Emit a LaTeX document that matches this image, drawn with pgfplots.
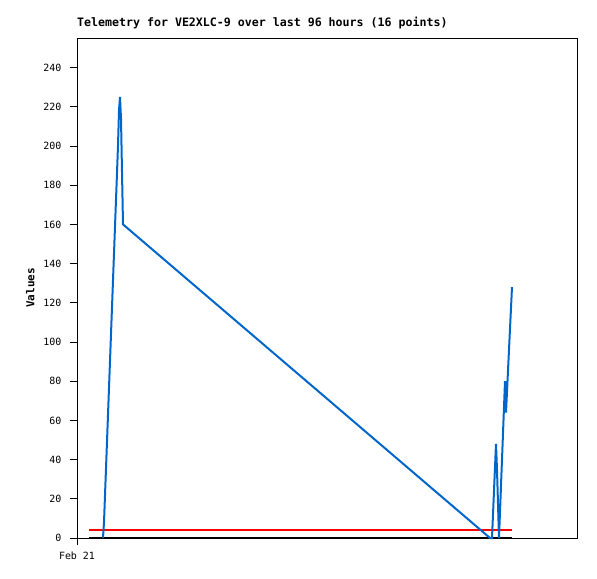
\documentclass[border=0pt]{standalone}
\usepackage{pgfplots}
\pgfplotsset{compat=1.18}
\usepackage{fontspec}
\setmainfont{DejaVu Sans Mono}
\definecolor{tblue}{HTML}{0066CC}
\begin{document}
\begin{tikzpicture}
\begin{axis}[
  scale only axis, width=500bp, height=500bp,
  xmin=0, xmax=500, ymin=0, ymax=255.1,
  axis line style={black, line width=0.8bp},
  ytick={0,20,...,240}, xtick={0}, xticklabels={Feb 21},
  tick align=outside, tick pos=left, major tick length=7bp,
  tick style={black, line width=0.8bp},
  ticklabel style={font=\fontsize{10}{11}\selectfont},
  yticklabel style={xshift=-5bp},
  xticklabel style={yshift=-3bp},
  /pgf/number format/assume math mode=true,
  title={\bfseries Telemetry for VE2XLC-9 over last 96 hours (16 points)},
  title style={at={(0,1)}, anchor=south west, inner sep=0pt, yshift=3bp, font=\fontsize{11.65}{12}\selectfont},
  ylabel={\bfseries Values},
  ylabel style={font=\fontsize{11}{12}\selectfont, yshift=2bp},
  clip=false,
]
\addplot[black, line width=2bp] coordinates {(12,0) (435,0)};
\addplot[red, line width=2bp] coordinates {(12,4) (435,4)};
\addplot[tblue, line width=2bp] coordinates {
 (26,0) (27,8) (41,200) (42,218) (43,225) (44,214) (46,160)
 (413,0) (415,0) (419,48) (420,35) (422,0) (428,80) (429,64) (435,128)};
\end{axis}
\path (current axis.south west) ++(-77bp,-41bp) rectangle ++(597bp,579bp);
\end{tikzpicture}
\end{document}
